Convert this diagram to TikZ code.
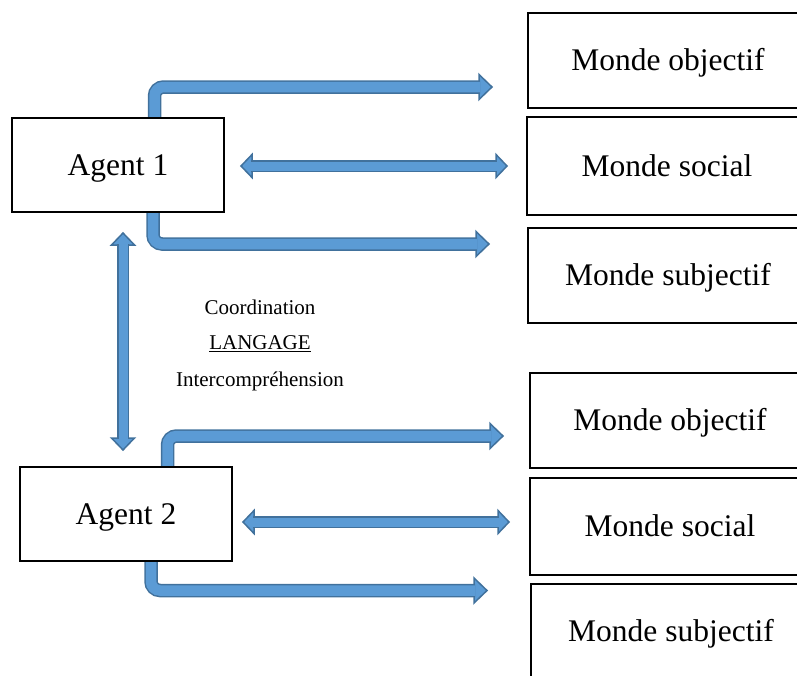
\documentclass[tikz,border=0pt]{standalone}
\usepackage{fontspec}
\setmainfont{Liberation Serif}
\usetikzlibrary{backgrounds}
\definecolor{arrowfill}{HTML}{5B9BD5}
\definecolor{arrowline}{HTML}{41719C}
\tikzset{
 box/.style={draw=black, line width=1.5pt, fill=white, inner sep=0pt, font=\fontsize{31.5}{37}\selectfont, text height=24pt, text depth=4pt},
 agentbox/.style={box, minimum width=212pt, minimum height=94pt},
 mondebox/.style={box, minimum width=280pt},
 shaft/.style={draw=arrowline, double=arrowfill, double distance=10.5pt, line width=1.5pt, rounded corners=9pt},
 thinshaft/.style={shaft, double distance=9pt},
 smalltext/.style={font=\fontsize{21}{25}\selectfont, inner sep=0pt},
 headstyle/.style={fill=arrowfill, draw=arrowline, line width=1.5pt, line join=miter}
}
\newcommand\bhead[4]{\path[headstyle, shift={(#1)}, rotate=#2] (0,0) -- (-#3,#4) -- (-#3,-#4) -- cycle;}
\begin{document}
\begin{tikzpicture}[x=1pt,y=-1pt]
\useasboundingbox (0,0) rectangle (797,675);
\clip (0,0) rectangle (797,675);
% agents
\node[agentbox] (a1) at (118,165) {Agent 1};
\node[agentbox] (a2) at (126,514) {Agent 2};
% worlds
\node[mondebox, minimum height=95pt] (mo1) at (668,60.5) {Monde objectif};
\node[mondebox, minimum height=98pt] (ms1) at (667,166) {Monde social};
\node[mondebox, minimum height=95pt] (mj1) at (668,275.5) {Monde subjectif};
\node[mondebox, minimum height=95pt] (mo2) at (670,420.5) {Monde objectif};
\node[mondebox, minimum height=97pt] (ms2) at (670,526.5) {Monde social};
\node[mondebox, minimum height=94pt] (mj2) at (671,631) {Monde subjectif};
% middle labels
\node[smalltext] (coord) at (260,307) {Coordination};
\node[smalltext] (lang) at (260,344) {\underline{LANGAGE}};
\node[smalltext] (inter) at (260,381) {Intercompréhension};
% arrow tips
\coordinate (t1) at (492,87);
\coordinate (t2) at (489,244);
\coordinate (t3l) at (241,166);
\coordinate (t3r) at (507,166);
\coordinate (t4u) at (123,233);
\coordinate (t4d) at (123,450);
\coordinate (t5) at (503,436);
\coordinate (t6) at (487,590.5);
\coordinate (t7l) at (243,522);
\coordinate (t7r) at (509,522);
\begin{scope}[on background layer]
% Agent 1
\bhead{t1}{0}{13}{12.5}
\draw[shaft] ([xshift=36.5pt]a1.north) |- ([xshift=-12pt]t1);
\bhead{t2}{0}{13}{12.5}
\draw[shaft] ([xshift=35pt]a1.south) |- ([xshift=-12pt]t2);
\bhead{t3l}{180}{11}{11.5}
\bhead{t3r}{0}{11}{11.5}
\draw[thinshaft] ([xshift=10pt]t3l) -- ([xshift=-10pt]t3r);
% vertical
\bhead{t4u}{90}{12}{11.5}
\bhead{t4d}{-90}{12}{11.5}
\draw[thinshaft] ([yshift=-11pt]t4u) -- ([yshift=11pt]t4d);
% Agent 2
\bhead{t5}{0}{13}{12.5}
\draw[shaft] ([xshift=41.5pt]a2.north) |- ([xshift=-12pt]t5);
\bhead{t6}{0}{13}{12.5}
\draw[shaft] ([xshift=25pt]a2.south) |- ([xshift=-12pt]t6);
\bhead{t7l}{180}{11}{11.5}
\bhead{t7r}{0}{11}{11.5}
\draw[thinshaft] ([xshift=10pt]t7l) -- ([xshift=-10pt]t7r);
\end{scope}
\end{tikzpicture}
\end{document}
